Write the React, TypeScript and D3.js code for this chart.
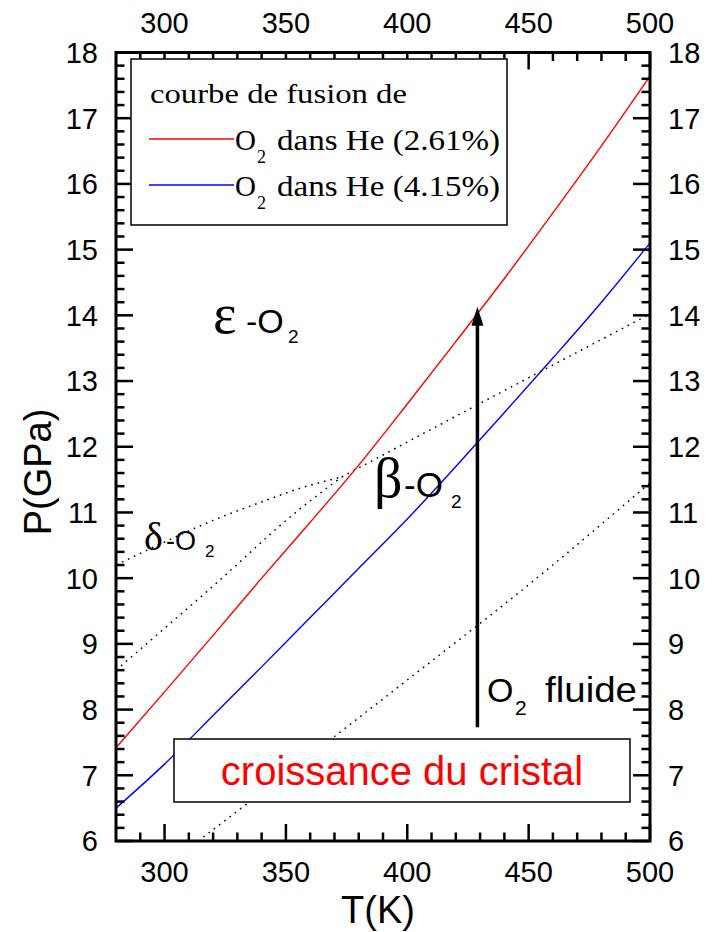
import React from 'react';
import * as d3 from 'd3';

const W = 714;
const H = 932;

// axes
const tempDomain = [280, 500];
const pressDomain = [6, 18];
const tempMajor = [300, 350, 400, 450, 500];
const pressMajor = [6, 7, 8, 9, 10, 11, 12, 13, 14, 15, 16, 17, 18];

// melting curves (O2 in He)
const redT = [280, 300, 320, 340, 360, 380, 400, 420, 440, 460, 480, 500];
const redP = [7.42, 8.27, 9.13, 10.0, 10.85, 11.72, 12.65, 13.6, 14.56, 15.56, 16.58, 17.64];
const blueT = [280, 300, 320, 340, 360, 380, 400, 420, 440, 460, 480, 500];
const blueP = [6.5, 7.17, 7.91, 8.65, 9.4, 10.15, 10.9, 11.7, 12.52, 13.35, 14.2, 15.1];

// phase boundaries (dotted)
const deltaEpsT = [280, 300, 320, 340, 356, 373];
const deltaEpsP = [10.2, 10.55, 10.88, 11.16, 11.37, 11.54];
const deltaBetaT = [280, 320, 355, 373];
const deltaBetaP = [8.6, 9.88, 11.03, 11.54];
const betaEpsT = [373, 430, 500];
const betaEpsP = [11.54, 12.66, 14.02];
const fluidT = [313.8, 350, 400, 450, 500];
const fluidP = [6.0, 7.02, 8.45, 9.9, 11.45];

// arrow (crystal growth path)
const arrowT = [428.9, 428.9];
const arrowP = [7.73, 14.13];

const SANS = 'Liberation Sans, Arial, Helvetica, sans-serif';
const SERIF = 'Liberation Serif, Times New Roman, serif';

export default function App() {
  const x = d3.scaleLinear().domain(tempDomain).range([116, 650]);
  const y = d3.scaleLinear().domain(pressDomain).range([841, 52.5]);
  const line = d3
    .line<[number, number]>()
    .x((d) => x(d[0]))
    .y((d) => y(d[1]))
    .curve(d3.curveMonotoneX);
  const pts = (T: number[], P: number[]) => T.map((t, i) => [t, P[i]] as [number, number]);

  const tempMinor = d3.range(290, 500, 10).filter((t) => t % 50 !== 0);
  const pressMinor = d3
    .range(6, 18.001, 0.2)
    .map((v) => Math.round(v * 10) / 10)
    .filter((v) => Math.abs(v - Math.round(v)) > 0.01);

  const [x0, x1] = x.range();
  const [yb, yt] = y.range();
  const MAJ = 17;
  const MIN = 8.5;

  const ax = x(arrowT[0]);
  const aTop = y(arrowP[1]);
  const aBot = y(arrowP[0]);

  return (
    <svg
      width={W}
      height={H}
      style={{ position: 'absolute', left: 0, top: 0, background: '#fff' }}
      xmlns="http://www.w3.org/2000/svg"
    >
      <rect x={0} y={0} width={W} height={H} fill="#fff" />

      {/* curves */}
      <g fill="none">
        <path d={line(pts(deltaEpsT, deltaEpsP)) || ''} stroke="#000" strokeWidth={1.5} strokeDasharray="1.6 5" />
        <path d={line(pts(deltaBetaT, deltaBetaP)) || ''} stroke="#000" strokeWidth={1.5} strokeDasharray="1.6 5" />
        <path d={line(pts(betaEpsT, betaEpsP)) || ''} stroke="#000" strokeWidth={1.5} strokeDasharray="1.6 5" />
        <path d={line(pts(fluidT, fluidP)) || ''} stroke="#000" strokeWidth={1.5} strokeDasharray="1.6 5" />
        <path d={line(pts(redT, redP)) || ''} stroke="#ff0000" strokeWidth={1.4} />
        <path d={line(pts(blueT, blueP)) || ''} stroke="#0000ff" strokeWidth={1.4} />
      </g>

      {/* arrow */}
      <line x1={ax} x2={ax} y1={aBot} y2={aTop + 15} stroke="#000" strokeWidth={3.5} />
      <polygon points={`${ax},${aTop} ${ax - 6},${aTop + 19} ${ax + 6},${aTop + 19}`} fill="#000" />

      {/* ticks */}
      <g stroke="#000" strokeWidth={2.5}>
        {tempMajor.map((t) => (
          <g key={'tM' + t}>
            <line x1={x(t)} x2={x(t)} y1={yb} y2={yb - MAJ} />
            <line x1={x(t)} x2={x(t)} y1={yt} y2={yt + MAJ} />
          </g>
        ))}
        {tempMinor.map((t) => (
          <g key={'tm' + t}>
            <line x1={x(t)} x2={x(t)} y1={yb} y2={yb - MIN} />
            <line x1={x(t)} x2={x(t)} y1={yt} y2={yt + MIN} />
          </g>
        ))}
        {pressMajor.map((p) => (
          <g key={'pM' + p}>
            <line x1={x0} x2={x0 + MAJ} y1={y(p)} y2={y(p)} />
            <line x1={x1} x2={x1 - MAJ} y1={y(p)} y2={y(p)} />
          </g>
        ))}
        {pressMinor.map((p) => (
          <g key={'pm' + p}>
            <line x1={x0} x2={x0 + MIN} y1={y(p)} y2={y(p)} />
            <line x1={x1} x2={x1 - MIN} y1={y(p)} y2={y(p)} />
          </g>
        ))}
      </g>

      {/* legend */}
      <rect x={131} y={59} width={376} height={166} fill="#fff" stroke="#000" strokeWidth={1.5} />
      <text x={150} y={103} fontFamily={SERIF} fontSize={28} textLength={257} lengthAdjust="spacingAndGlyphs">
        courbe de fusion de
      </text>
      <line x1={149} x2={234} y1={139} y2={139} stroke="#ff0000" strokeWidth={1.4} />
      <line x1={149} x2={234} y1={185} y2={185} stroke="#0000ff" strokeWidth={1.4} />
      {[
        { yb: 150, label: 'dans He (2.61%)' },
        { yb: 196, label: 'dans He (4.15%)' },
      ].map((e) => (
        <g key={e.label} fontFamily={SERIF}>
          <text x={235} y={e.yb} fontSize={29}>O</text>
          <text x={257} y={e.yb + 13} fontSize={18}>2</text>
          <text x={277} y={e.yb} fontSize={29} textLength={223} lengthAdjust="spacingAndGlyphs">
            {e.label}
          </text>
        </g>
      ))}

      {/* crystal growth box */}
      <rect x={174} y={739} width={456} height={63} fill="#fff" stroke="#000" strokeWidth={1.5} />
      <text x={402} y={785} fontFamily={SANS} fontSize={40} fill="#ff0000" textAnchor="middle">
        croissance du cristal
      </text>

      {/* phase labels */}
      <g fontFamily={SANS} fill="#000">
        <text x={213} y={333} fontFamily={SERIF} fontSize={56}>ε</text>
        <text x={246} y={333} fontSize={34}>-O</text>
        <text x={288} y={343} fontSize={19}>2</text>

        <text x={374} y={497} fontFamily={SERIF} fontSize={56}>β</text>
        <text x={404} y={497} fontSize={35}>-O</text>
        <text x={451} y={508} fontSize={19}>2</text>

        <text x={144} y={550} fontFamily={SERIF} fontSize={40}>δ</text>
        <text x={166} y={550} fontSize={27}>-O</text>
        <text x={205} y={557} fontSize={17}>2</text>

        <text x={487} y={702} fontSize={34}>O</text>
        <text x={515} y={715} fontSize={21}>2</text>
        <text x={545} y={702} fontSize={35} textLength={92} lengthAdjust="spacingAndGlyphs">fluide</text>
      </g>

      {/* frame */}
      <rect x={x0} y={yt} width={x1 - x0} height={yb - yt} fill="none" stroke="#000" strokeWidth={3} />

      {/* tick labels */}
      <g fontFamily={SANS} fontSize={29} fill="#000">
        {tempMajor.map((t) => (
          <g key={'tl' + t}>
            <text x={x(t)} y={882} textAnchor="middle">{t}</text>
            <text x={x(t)} y={33} textAnchor="middle">{t}</text>
          </g>
        ))}
        {pressMajor.map((p) => (
          <g key={'pl' + p}>
            <text x={98} y={y(p)} dy="0.36em" textAnchor="end">{p}</text>
            <text x={668} y={y(p)} dy="0.36em" textAnchor="start">{p}</text>
          </g>
        ))}
      </g>

      {/* axis titles */}
      <text x={378} y={923} fontFamily={SANS} fontSize={38} textAnchor="middle">T(K)</text>
      <text
        transform={`translate(51,472) rotate(-90)`}
        fontFamily={SANS}
        fontSize={38}
        textAnchor="middle"
      >
        P(GPa)
      </text>
    </svg>
  );
}
